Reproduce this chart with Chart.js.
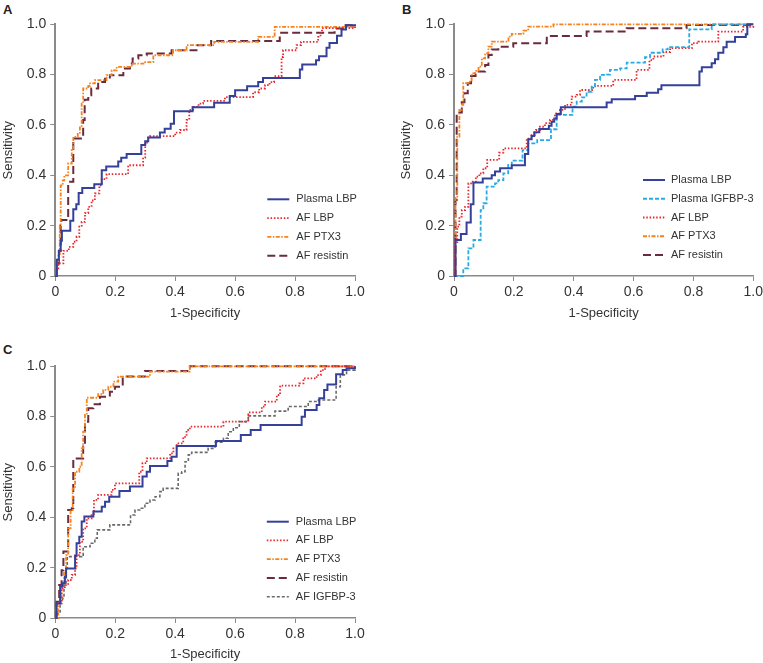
<!DOCTYPE html>
<html>
<head>
<meta charset="utf-8">
<script src="https://cdn.jsdelivr.net/npm/chart.js@4.4.1/dist/chart.umd.min.js"></script>
<style>
  body { margin: 0; background: #fff; width: 763px; height: 663px; position: relative; overflow: hidden; }
  .panel { position: absolute; }
  .tag { position: absolute; font: bold 13px "Liberation Sans", Arial, sans-serif; color: #222; }
</style>
</head>
<body>
<div class="tag" style="left:3px;top:2px;">A</div>
<div class="tag" style="left:402px;top:2px;">B</div>
<div class="tag" style="left:3px;top:342px;">C</div>
<canvas id="chartA" class="panel" width="380" height="330" style="left:0;top:0;"></canvas>
<canvas id="chartB" class="panel" width="378" height="330" style="left:385px;top:0;"></canvas>
<canvas id="chartC" class="panel" width="380" height="328" style="left:0;top:335px;"></canvas>
<script>
// axis ticks (both axes)
var tickValues = [0, 0.2, 0.4, 0.6, 0.8, 1.0];
var tickLabels = ["0", "0.2", "0.4", "0.6", "0.8", "1.0"];
var xTitle = "1-Specificity";
var yTitle = "Sensitivity";

// ROC points [1-specificity, sensitivity]
// panel A
var aPlasmaLbp = [[0,0],[0.005,0.065],[0.012,0.10],[0.018,0.14],[0.022,0.18],[0.05,0.22],[0.06,0.265],[0.07,0.285],[0.078,0.33],[0.09,0.35],[0.13,0.365],[0.155,0.42],[0.17,0.435],[0.21,0.455],[0.22,0.47],[0.238,0.485],[0.287,0.52],[0.30,0.535],[0.31,0.55],[0.349,0.57],[0.365,0.585],[0.385,0.605],[0.396,0.655],[0.458,0.67],[0.53,0.688],[0.582,0.715],[0.60,0.738],[0.64,0.754],[0.677,0.771],[0.693,0.787],[0.816,0.82],[0.824,0.84],[0.87,0.857],[0.88,0.873],[0.905,0.907],[0.915,0.926],[0.94,0.955],[0.955,0.979],[0.97,0.996],[1,1]];
var aAfLbp = [[0,0],[0.005,0.03],[0.01,0.05],[0.027,0.10],[0.045,0.116],[0.06,0.136],[0.071,0.156],[0.08,0.196],[0.088,0.215],[0.099,0.25],[0.11,0.275],[0.121,0.30],[0.132,0.328],[0.147,0.36],[0.155,0.385],[0.171,0.405],[0.243,0.44],[0.293,0.47],[0.30,0.53],[0.31,0.55],[0.316,0.556],[0.40,0.57],[0.416,0.58],[0.438,0.62],[0.447,0.66],[0.46,0.672],[0.478,0.685],[0.493,0.696],[0.566,0.711],[0.66,0.73],[0.68,0.745],[0.70,0.758],[0.715,0.77],[0.73,0.794],[0.755,0.87],[0.76,0.897],[0.805,0.917],[0.82,0.93],[0.877,0.95],[0.885,0.965],[0.89,0.985],[1,1]];
var aAfPtx3 = [[0,0],[0.005,0.05],[0.01,0.08],[0.015,0.2],[0.018,0.36],[0.025,0.38],[0.03,0.4],[0.043,0.447],[0.055,0.5],[0.06,0.553],[0.075,0.565],[0.082,0.59],[0.088,0.685],[0.093,0.745],[0.11,0.755],[0.116,0.765],[0.132,0.778],[0.171,0.798],[0.188,0.817],[0.205,0.831],[0.255,0.844],[0.30,0.85],[0.327,0.877],[0.393,0.897],[0.438,0.917],[0.53,0.93],[0.677,0.95],[0.732,0.99],[1,0.99]];
var aAfResistin = [[0,0],[0.005,0.05],[0.012,0.1],[0.018,0.2],[0.02,0.222],[0.043,0.374],[0.06,0.546],[0.093,0.62],[0.098,0.70],[0.11,0.718],[0.12,0.745],[0.143,0.771],[0.166,0.784],[0.182,0.798],[0.227,0.824],[0.249,0.844],[0.258,0.864],[0.277,0.877],[0.305,0.884],[0.388,0.897],[0.471,0.917],[0.52,0.934],[0.749,0.966],[0.932,0.983],[0.96,0.996],[1,1]];

// panel B
var bPlasmaLbp = [[0,0],[0.005,0.143],[0.023,0.167],[0.042,0.213],[0.056,0.285],[0.065,0.371],[0.096,0.387],[0.126,0.40],[0.137,0.415],[0.154,0.428],[0.193,0.44],[0.237,0.485],[0.248,0.543],[0.259,0.556],[0.268,0.571],[0.285,0.584],[0.317,0.597],[0.326,0.613],[0.335,0.626],[0.343,0.644],[0.357,0.67],[0.51,0.689],[0.527,0.702],[0.605,0.715],[0.644,0.728],[0.682,0.742],[0.693,0.758],[0.82,0.812],[0.828,0.829],[0.861,0.845],[0.872,0.861],[0.883,0.887],[0.90,0.909],[0.911,0.931],[0.939,0.95],[0.975,0.96],[0.98,1.0],[1,1]];
var bPlasmaIgfbp3 = [[0,0],[0.015,0],[0.031,0.03],[0.048,0.11],[0.065,0.143],[0.089,0.262],[0.098,0.289],[0.109,0.355],[0.137,0.368],[0.148,0.381],[0.165,0.408],[0.181,0.441],[0.193,0.458],[0.229,0.50],[0.248,0.527],[0.278,0.54],[0.324,0.583],[0.343,0.64],[0.396,0.673],[0.41,0.693],[0.427,0.71],[0.443,0.732],[0.46,0.752],[0.471,0.779],[0.488,0.799],[0.51,0.80],[0.521,0.819],[0.555,0.825],[0.577,0.848],[0.638,0.869],[0.655,0.887],[0.697,0.90],[0.714,0.909],[0.786,0.98],[0.861,1.0],[1,1]];
var bAfLbp = [[0,0],[0.003,0.13],[0.011,0.196],[0.018,0.236],[0.026,0.262],[0.037,0.275],[0.048,0.368],[0.059,0.375],[0.073,0.395],[0.085,0.408],[0.098,0.428],[0.111,0.461],[0.151,0.49],[0.165,0.507],[0.243,0.546],[0.259,0.56],[0.274,0.58],[0.287,0.593],[0.304,0.607],[0.321,0.62],[0.337,0.646],[0.354,0.66],[0.371,0.68],[0.393,0.713],[0.41,0.72],[0.421,0.739],[0.465,0.755],[0.532,0.779],[0.61,0.819],[0.653,0.858],[0.666,0.872],[0.70,0.89],[0.722,0.905],[0.795,0.925],[0.816,0.931],[0.883,0.971],[0.966,0.99],[1,1]];
var bAfPtx3 = [[0,0],[0.005,0.315],[0.011,0.554],[0.018,0.66],[0.026,0.68],[0.031,0.766],[0.048,0.772],[0.059,0.805],[0.07,0.815],[0.082,0.832],[0.093,0.865],[0.104,0.885],[0.115,0.911],[0.126,0.931],[0.182,0.951],[0.193,0.962],[0.232,0.975],[0.248,0.991],[0.332,1.0],[1,1]];
var bAfResistin = [[0,0],[0.005,0.302],[0.009,0.65],[0.026,0.69],[0.035,0.726],[0.046,0.766],[0.057,0.795],[0.072,0.812],[0.104,0.838],[0.115,0.878],[0.126,0.90],[0.148,0.911],[0.198,0.925],[0.31,0.954],[0.443,0.971],[0.577,0.984],[0.777,0.997],[1,1]];

// panel C
var cPlasmaLbp = [[0,0],[0.004,0.058],[0.016,0.125],[0.024,0.138],[0.032,0.164],[0.036,0.197],[0.066,0.248],[0.071,0.297],[0.08,0.323],[0.088,0.383],[0.097,0.403],[0.127,0.423],[0.155,0.442],[0.166,0.462],[0.18,0.482],[0.214,0.505],[0.249,0.522],[0.291,0.562],[0.305,0.581],[0.316,0.604],[0.374,0.624],[0.388,0.641],[0.405,0.683],[0.536,0.703],[0.619,0.727],[0.652,0.747],[0.685,0.767],[0.822,0.80],[0.833,0.826],[0.872,0.846],[0.881,0.873],[0.897,0.906],[0.908,0.928],[0.937,0.968],[0.959,0.985],[0.972,0.992],[1,1]];
var cAfLbp = [[0,0],[0.004,0.058],[0.021,0.118],[0.032,0.131],[0.043,0.151],[0.055,0.171],[0.066,0.197],[0.071,0.25],[0.082,0.303],[0.093,0.356],[0.105,0.396],[0.121,0.409],[0.129,0.469],[0.143,0.489],[0.188,0.509],[0.199,0.535],[0.28,0.581],[0.291,0.615],[0.305,0.634],[0.383,0.654],[0.394,0.674],[0.405,0.694],[0.427,0.72],[0.438,0.747],[0.449,0.76],[0.561,0.78],[0.644,0.817],[0.689,0.84],[0.70,0.86],[0.739,0.886],[0.75,0.923],[0.814,0.932],[0.828,0.952],[0.872,0.965],[0.886,0.985],[0.9,1.0],[1,1]];
var cAfPtx3 = [[0,0],[0.01,0.058],[0.021,0.131],[0.029,0.184],[0.036,0.25],[0.043,0.356],[0.051,0.429],[0.058,0.515],[0.066,0.581],[0.08,0.601],[0.088,0.674],[0.093,0.74],[0.099,0.807],[0.105,0.875],[0.143,0.889],[0.16,0.906],[0.177,0.919],[0.194,0.939],[0.21,0.959],[0.316,0.979],[0.449,1.0],[1,1]];
var cAfResistin = [[0,0],[0.004,0.065],[0.013,0.131],[0.021,0.19],[0.027,0.264],[0.043,0.429],[0.055,0.436],[0.06,0.634],[0.093,0.681],[0.099,0.78],[0.11,0.833],[0.127,0.849],[0.149,0.879],[0.182,0.899],[0.199,0.919],[0.225,0.959],[0.299,0.981],[0.449,1.0],[1,1]];
var cAfIgfbp3 = [[0,0],[0.007,0.018],[0.016,0.065],[0.024,0.078],[0.029,0.131],[0.036,0.197],[0.04,0.244],[0.088,0.25],[0.093,0.283],[0.116,0.297],[0.132,0.317],[0.14,0.35],[0.182,0.37],[0.251,0.409],[0.266,0.429],[0.282,0.436],[0.299,0.456],[0.316,0.469],[0.333,0.482],[0.349,0.502],[0.36,0.515],[0.41,0.575],[0.422,0.581],[0.433,0.621],[0.444,0.648],[0.455,0.658],[0.51,0.674],[0.533,0.698],[0.561,0.714],[0.577,0.74],[0.594,0.756],[0.614,0.78],[0.644,0.803],[0.733,0.822],[0.777,0.84],[0.844,0.86],[0.878,0.866],[0.937,0.919],[0.951,0.966],[0.972,0.985],[1,1]];

// line look of each marker
var styles = {
  "Plasma LBP":     { color: "#34409a", width: 2,   dash: [] },
  "Plasma IGFBP-3": { color: "#2aaae2", width: 1.8, dash: [4, 2] },
  "AF LBP":         { color: "#e8262d", width: 1.8, dash: [1.5, 1.8] },
  "AF PTX3":        { color: "#f5821f", width: 1.8, dash: [4, 1.5, 1.5, 1.5] },
  "AF resistin":    { color: "#6b2b3c", width: 2,   dash: [8, 4] },
  "AF IGFBP-3":     { color: "#6a6a6a", width: 1.6, dash: [3, 2] }
};

Chart.defaults.font.family = '"Liberation Sans", Arial, sans-serif';
Chart.defaults.color = "#333";

function makeDataset(label, points) {
  var s = styles[label];
  return {
    label: label,
    data: points.map(function (p) { return { x: p[0], y: p[1] }; }),
    borderColor: s.color,
    borderWidth: s.width,
    borderDash: s.dash,
    pointRadius: 0,
    fill: false,
    stepped: "before",
    clip: 4
  };
}

// legend drawn inside the plot, bottom right
var insideLegend = {
  id: "insideLegend",
  afterDatasetsDraw: function (chart, args, opts) {
    var ctx = chart.ctx, area = chart.chartArea;
    var sets = chart.data.datasets;
    ctx.save();
    ctx.font = '11px "Liberation Sans", Arial, sans-serif';
    ctx.textBaseline = "middle";
    ctx.textAlign = "left";
    for (var i = 0; i < sets.length; i++) {
      var ds = sets[i];
      var y = area.bottom - opts.bottom - (sets.length - 1 - i) * opts.rowGap;
      var x0 = area.left + opts.left;
      ctx.strokeStyle = ds.borderColor;
      ctx.lineWidth = ds.borderWidth;
      ctx.setLineDash(ds.borderDash || []);
      ctx.beginPath();
      ctx.moveTo(x0, y);
      ctx.lineTo(x0 + opts.lineLen, y);
      ctx.stroke();
      ctx.setLineDash([]);
      ctx.fillStyle = "#333";
      ctx.fillText(ds.label, x0 + opts.lineLen + opts.gap, y);
    }
    ctx.restore();
  }
};

function makeChart(id, datasets, box) {
  var axisColor = "#8a8a8a";
  return new Chart(document.getElementById(id), {
    type: "line",
    data: { datasets: datasets },
    plugins: [insideLegend],
    options: {
      responsive: false,
      animation: false,
      devicePixelRatio: 1,
      layout: { padding: { left: 0, right: box.right, top: box.top, bottom: 0 } },
      plugins: {
        legend: { display: false },
        tooltip: { enabled: false },
        insideLegend: box.legend
      },
      scales: {
        x: {
          type: "linear",
          min: 0, max: 1,
          afterBuildTicks: function (s) { s.ticks = tickValues.map(function (v) { return { value: v }; }); },
          afterFit: function (s) { s.height = box.xHeight; s.paddingRight = 0; s.paddingLeft = 0; },
          ticks: {
            font: { size: 14 },
            padding: 3,
            maxRotation: 0,
            callback: function (v) { return tickLabels[tickValues.indexOf(v)]; }
          },
          grid: { drawOnChartArea: false, drawTicks: true, tickLength: 5, tickColor: axisColor },
          border: { color: axisColor, width: 1.5 },
          title: { display: true, text: xTitle, font: { size: 13 }, padding: { top: 0, bottom: box.xTitlePad } }
        },
        y: {
          min: 0, max: 1,
          afterBuildTicks: function (s) { s.ticks = tickValues.map(function (v) { return { value: v }; }); },
          afterFit: function (s) { s.width = box.yWidth; },
          ticks: {
            font: { size: 14 },
            padding: 4,
            callback: function (v) { return tickLabels[tickValues.indexOf(v)]; }
          },
          grid: { drawOnChartArea: false, drawTicks: true, tickLength: 5, tickColor: axisColor },
          border: { color: axisColor, width: 2 },
          title: { display: true, text: yTitle, font: { size: 13 }, padding: { top: box.yTitlePad, bottom: 0 } }
        }
      }
    }
  });
}

makeChart("chartA", [
  makeDataset("Plasma LBP", aPlasmaLbp),
  makeDataset("AF LBP", aAfLbp),
  makeDataset("AF PTX3", aAfPtx3),
  makeDataset("AF resistin", aAfResistin)
], { right: 25, top: 24.3, xHeight: 54, yWidth: 55.3, xTitlePad: 9, yTitlePad: 0.5,
     legend: { left: 212, lineLen: 22, gap: 7, bottom: 20.3, rowGap: 18.8 } });

makeChart("chartB", [
  makeDataset("Plasma LBP", bPlasmaLbp),
  makeDataset("Plasma IGFBP-3", bPlasmaIgfbp3),
  makeDataset("AF LBP", bAfLbp),
  makeDataset("AF PTX3", bAfPtx3),
  makeDataset("AF resistin", bAfResistin)
], { right: 9.7, top: 24.3, xHeight: 54, yWidth: 69, xTitlePad: 9, yTitlePad: 14,
     legend: { left: 189, lineLen: 22, gap: 6, bottom: 21, rowGap: 18.75 } });

makeChart("chartC", [
  makeDataset("Plasma LBP", cPlasmaLbp),
  makeDataset("AF LBP", cAfLbp),
  makeDataset("AF PTX3", cAfPtx3),
  makeDataset("AF resistin", cAfResistin),
  makeDataset("AF IGFBP-3", cAfIgfbp3)
], { right: 25, top: 31.3, xHeight: 45, yWidth: 55.3, xTitlePad: 1, yTitlePad: 0.5,
     legend: { left: 211.5, lineLen: 22, gap: 7, bottom: 21.3, rowGap: 18.75 } });
</script>
</body>
</html>
